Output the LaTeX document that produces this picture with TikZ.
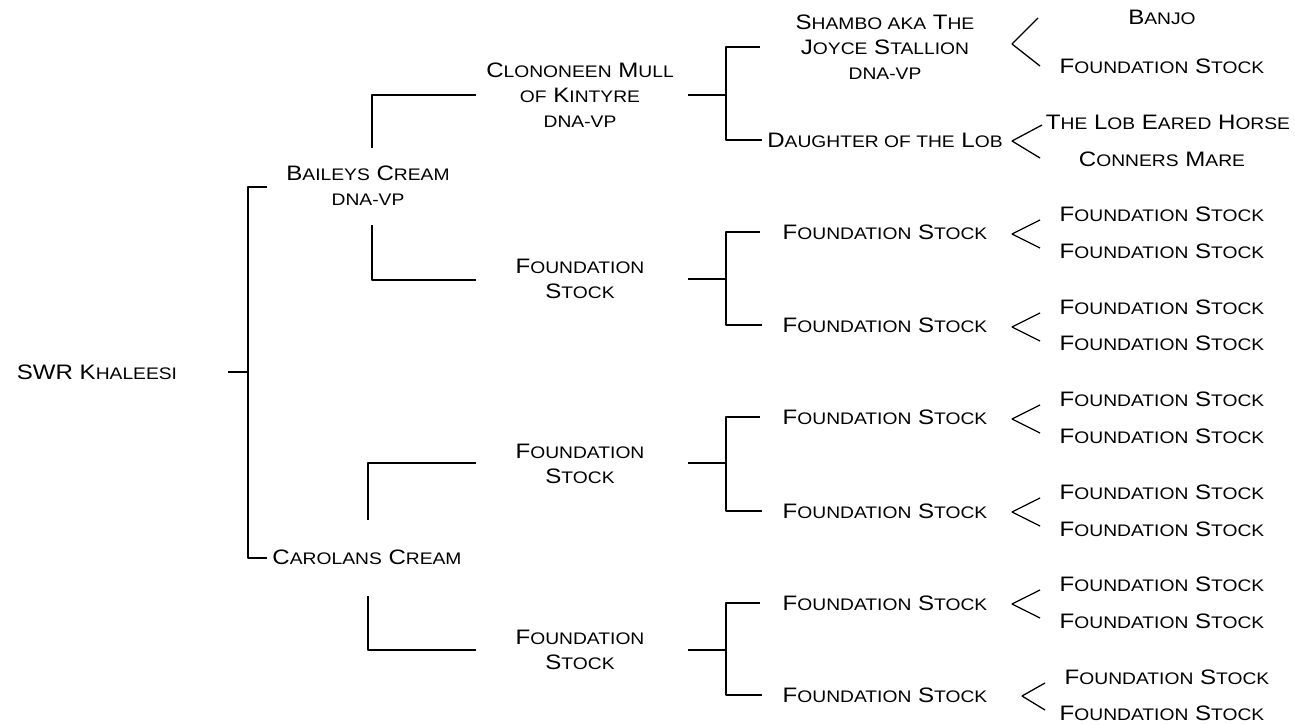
\documentclass[tikz,border=0pt]{standalone}
\usepackage{fontspec}
\setmainfont[FakeStretch=1.15]{Liberation Sans}
\usetikzlibrary{arrows,shapes}
\newcommand{\lsc}[1]{{\fontsize{16.8}{25}\selectfont\MakeUppercase{#1}}}

\begin{document}
\begin{tikzpicture}[x=1bp,y=-1bp,line join=bevel,
  every node/.style={font=\fontsize{21}{25}\selectfont,align=center,inner sep=0pt}]
  \pgfsetlinewidth{1.3bp}
  \useasboundingbox (0,0) rectangle (1295,725);
%%
\pgfsetcolor{black}
  % Node: root
  \node (root) at (97,372) {SWR K\lsc{haleesi}};
  % Node: baileys
  \node (baileys) at (368,186) {B\lsc{aileys} C\lsc{ream}\\\lsc{dna-vp}};
  % Node: carolans
  \node (carolans) at (367,557) {C\lsc{arolans} C\lsc{ream}};
  % Node: clononeen
  \node (clononeen) at (580,95) {C\lsc{lononeen} M\lsc{ull}\\\lsc{of} K\lsc{intyre}\\\lsc{dna-vp}};
  % Node: bfound
  \node (bfound) at (580,279) {F\lsc{oundation}\\S\lsc{tock}};
  % Node: cfoundA
  \node (cfoundA) at (580,464) {F\lsc{oundation}\\S\lsc{tock}};
  % Node: cfoundB
  \node (cfoundB) at (580,650) {F\lsc{oundation}\\S\lsc{tock}};
  % Node: shambo
  \node (shambo) at (885,47) {S\lsc{hambo aka} T\lsc{he}\\J\lsc{oyce} S\lsc{tallion}\\\lsc{dna-vp}};
  % Node: daughter
  \node (daughter) at (885,140) {D\lsc{aughter of the} L\lsc{ob}};
  % Node: gthreeA .. gthreeF
  \node (gthreeA) at (885,232) {F\lsc{oundation} S\lsc{tock}};
  \node (gthreeB) at (885,325) {F\lsc{oundation} S\lsc{tock}};
  \node (gthreeC) at (885,417) {F\lsc{oundation} S\lsc{tock}};
  \node (gthreeD) at (885,511) {F\lsc{oundation} S\lsc{tock}};
  \node (gthreeE) at (885,603) {F\lsc{oundation} S\lsc{tock}};
  \node (gthreeF) at (885,695) {F\lsc{oundation} S\lsc{tock}};
  % Node: banjo, shfound
  \node (banjo) at (1162,17) {B\lsc{anjo}};
  \node (shfound) at (1162,66) {F\lsc{oundation} S\lsc{tock}};
  % Node: lob, conners
  \node (lob) at (1168,122) {T\lsc{he} L\lsc{ob} E\lsc{ared} H\lsc{orse}};
  \node (conners) at (1162,159) {C\lsc{onners} M\lsc{are}};
  % Node: gfourA .. gfourL
  \node (gfourA) at (1162,214) {F\lsc{oundation} S\lsc{tock}};
  \node (gfourB) at (1162,251) {F\lsc{oundation} S\lsc{tock}};
  \node (gfourC) at (1162,307) {F\lsc{oundation} S\lsc{tock}};
  \node (gfourD) at (1162,343) {F\lsc{oundation} S\lsc{tock}};
  \node (gfourE) at (1162,399) {F\lsc{oundation} S\lsc{tock}};
  \node (gfourF) at (1162,436) {F\lsc{oundation} S\lsc{tock}};
  \node (gfourG) at (1162,492) {F\lsc{oundation} S\lsc{tock}};
  \node (gfourH) at (1162,529) {F\lsc{oundation} S\lsc{tock}};
  \node (gfourI) at (1162,584) {F\lsc{oundation} S\lsc{tock}};
  \node (gfourJ) at (1162,621) {F\lsc{oundation} S\lsc{tock}};
  \node (gfourK) at (1167,677) {F\lsc{oundation} S\lsc{tock}};
  \node (gfourL) at (1162,713) {F\lsc{oundation} S\lsc{tock}};
%
  % Edge: root -> baileys, carolans
  \coordinate (rootout) at (228,372);
  \coordinate (rootbar) at (248,372);
  \coordinate (baileysin) at (267,187);
  \coordinate (carolansin) at (267,558);
  \draw (rootout) -- (rootbar);
  \draw (baileysin) -- (rootbar |- baileysin) -- (rootbar |- carolansin) -- (carolansin);
  % Edge: baileys -> clononeen, bfound
  \coordinate (baileysup) at (372,148);
  \coordinate (baileysdown) at (372,225);
  \coordinate (clononeenin) at (476,95);
  \coordinate (bfoundin) at (476,280);
  \draw (baileysup) -- (baileysup |- clononeenin) -- (clononeenin);
  \draw (baileysdown) -- (baileysdown |- bfoundin) -- (bfoundin);
  % Edge: carolans -> cfoundA, cfoundB
  \coordinate (carolansup) at (368,520);
  \coordinate (carolansdown) at (368,596);
  \coordinate (cfoundAin) at (476,463);
  \coordinate (cfoundBin) at (476,650);
  \draw (carolansup) -- (carolansup |- cfoundAin) -- (cfoundAin);
  \draw (carolansdown) -- (carolansdown |- cfoundBin) -- (cfoundBin);
  % Edge: clononeen -> shambo, daughter
  \coordinate (clononeenout) at (688,95);
  \coordinate (clononeenbar) at (726,95);
  \draw (clononeenout) -- (clononeenbar);
  \draw (760,47) -- (clononeenbar |- shambo) -- (clononeenbar |- daughter) -- (762,140);
  % Edge: bfound -> gthreeA, gthreeB
  \coordinate (bfoundout) at (688,279);
  \coordinate (bfoundbar) at (726,279);
  \draw (bfoundout) -- (bfoundbar);
  \draw (760,232) -- (bfoundbar |- gthreeA) -- (bfoundbar |- gthreeB) -- (762,325);
  % Edge: cfoundA -> gthreeC, gthreeD
  \coordinate (cfoundAout) at (688,463);
  \coordinate (cfoundAbar) at (726,463);
  \draw (cfoundAout) -- (cfoundAbar);
  \draw (760,417) -- (cfoundAbar |- gthreeC) -- (cfoundAbar |- gthreeD) -- (762,511);
  % Edge: cfoundB -> gthreeE, gthreeF
  \coordinate (cfoundBout) at (688,650);
  \coordinate (cfoundBbar) at (726,650);
  \draw (cfoundBout) -- (cfoundBbar);
  \draw (760,603) -- (cfoundBbar |- gthreeE) -- (cfoundBbar |- gthreeF) -- (762,695);
  % Edge: gen3 -> gen4 (chevrons)
  \draw (1038,18) -- (1012,44) -- (1040,66);
  \draw (1042,125) -- (1012,141) -- (1040,158);
  \draw (1040,220) -- (1012,234) -- (1040,248);
  \draw (1040,313) -- (1012,327) -- (1040,341);
  \draw (1040,405) -- (1012,419) -- (1040,433);
  \draw (1040,498) -- (1012,512) -- (1040,526);
  \draw (1040,590) -- (1012,604) -- (1040,618);
  \draw (1045,683) -- (1022,696) -- (1045,710);
%
\end{tikzpicture}
\end{document}
